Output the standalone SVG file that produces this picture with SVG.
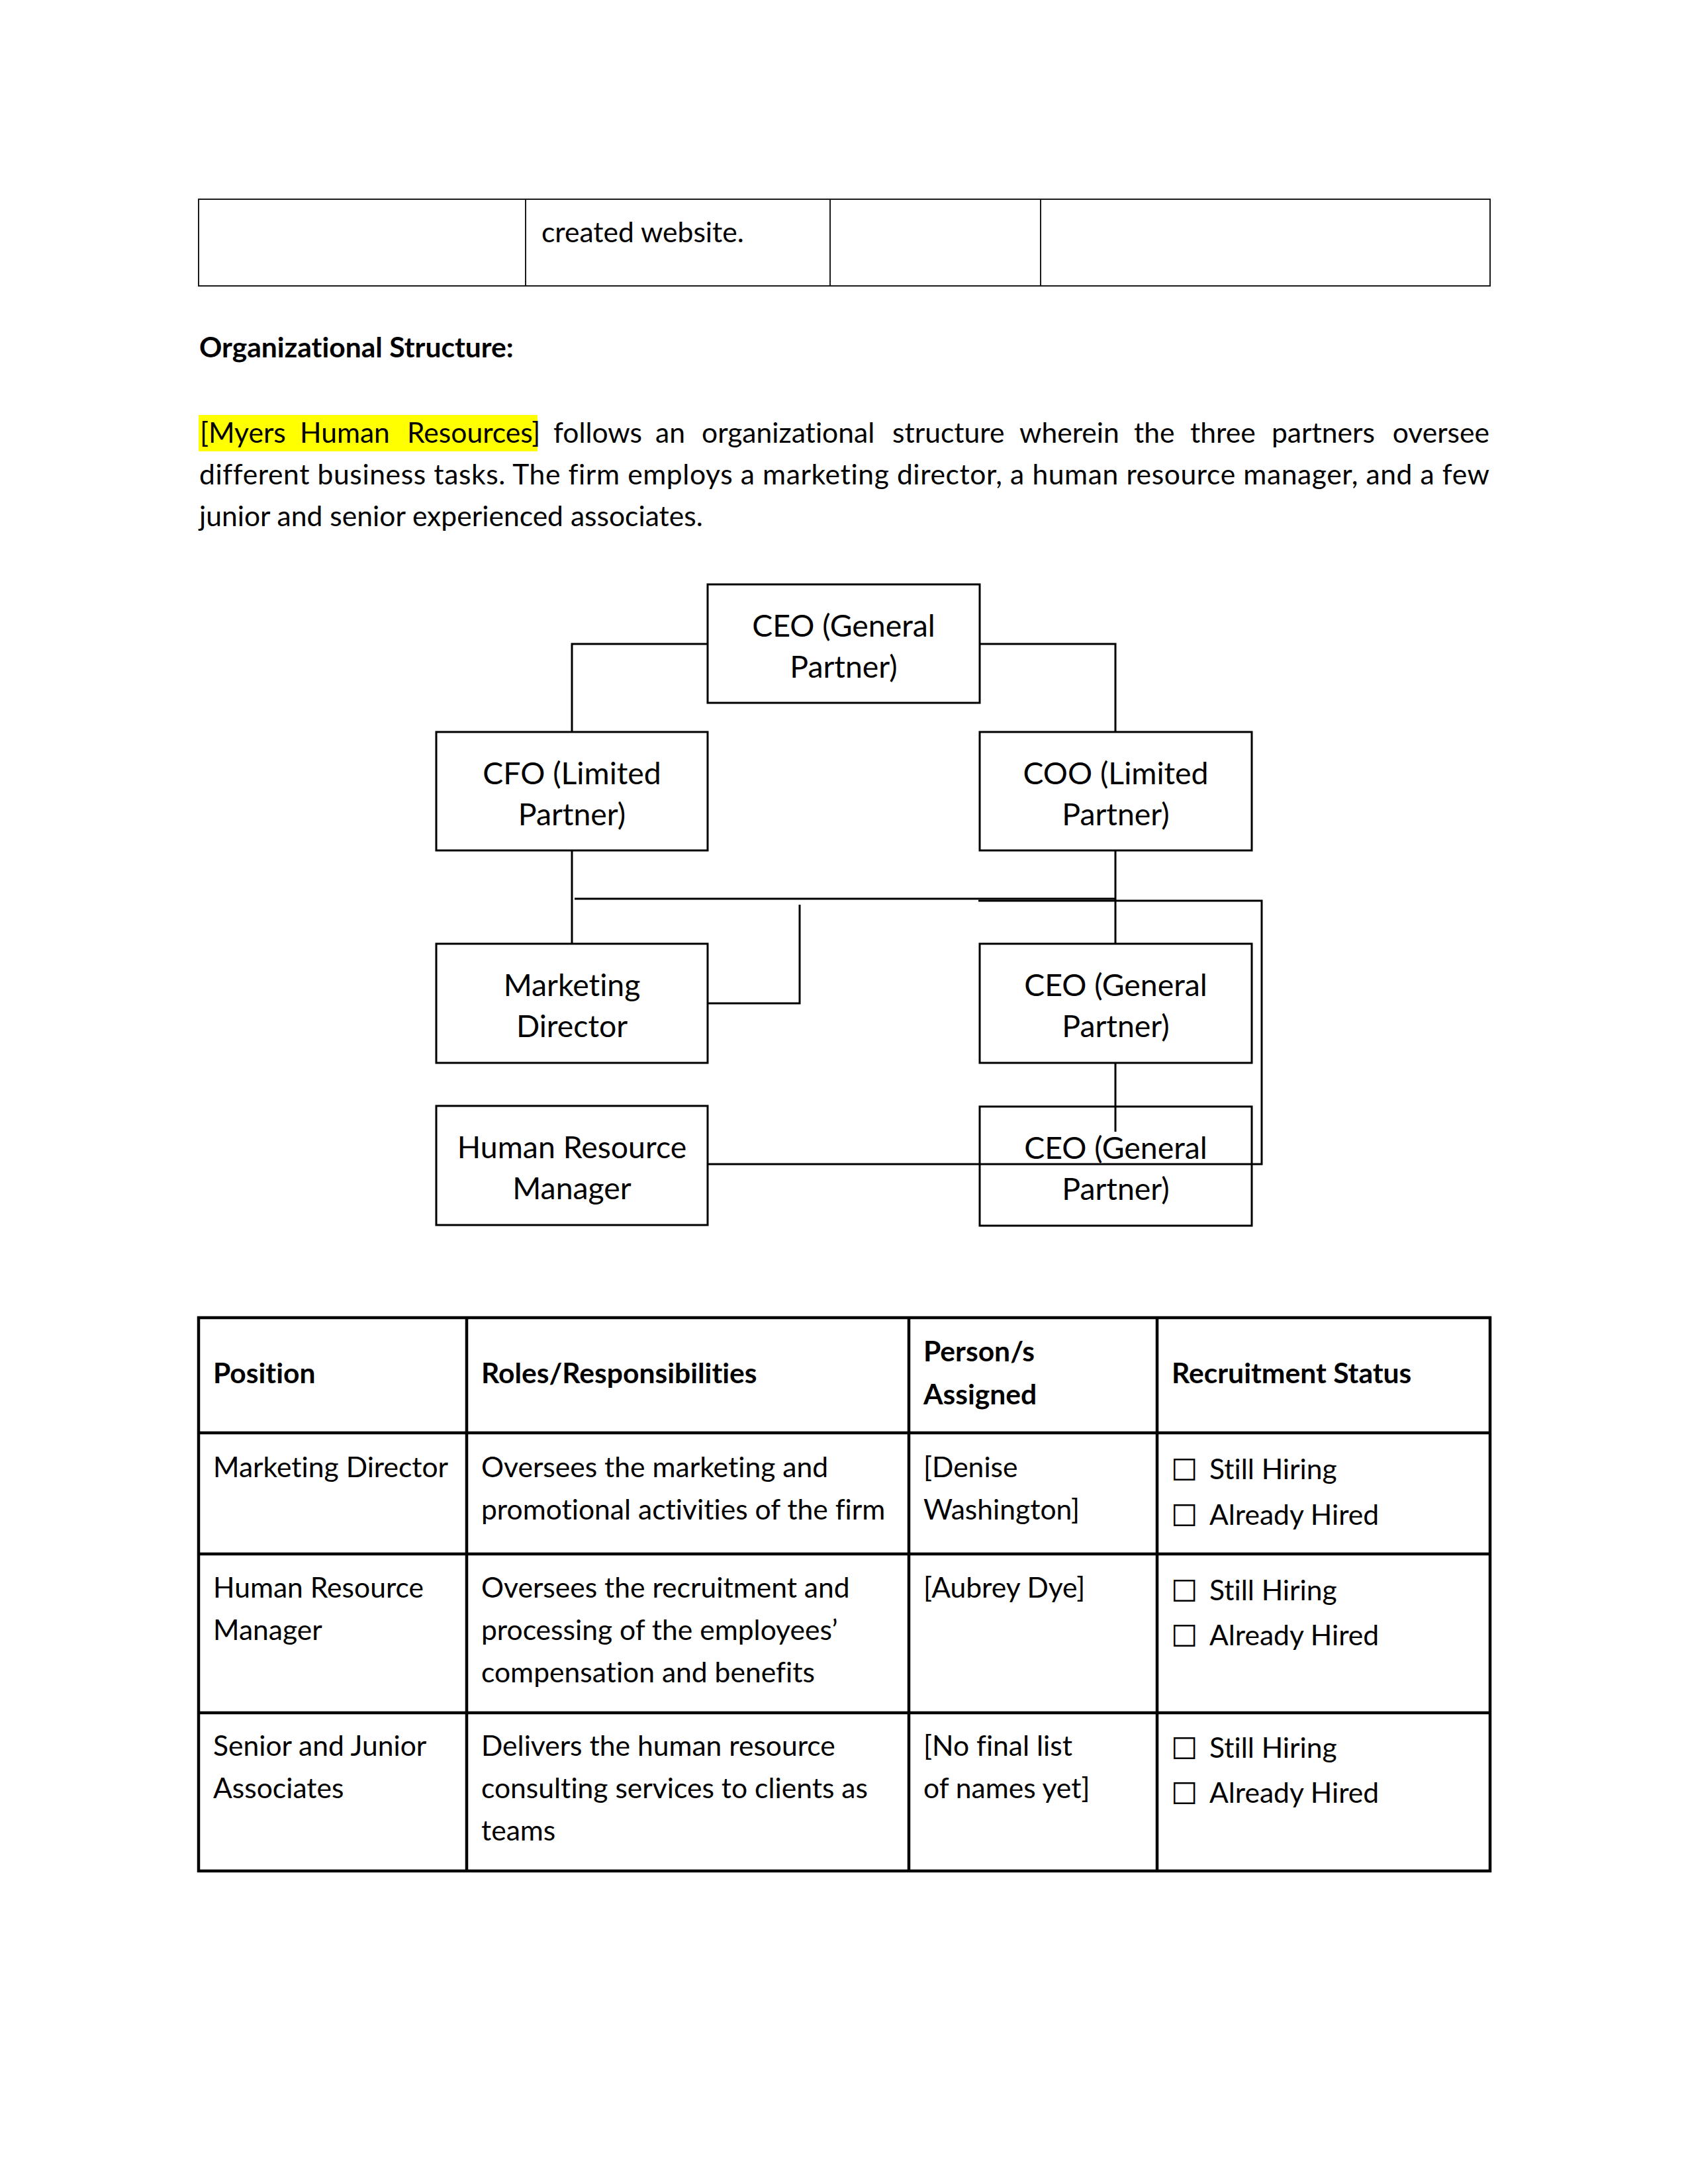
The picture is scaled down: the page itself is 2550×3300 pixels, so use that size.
<svg xmlns="http://www.w3.org/2000/svg" width="2550" height="3300" viewBox="0 0 2550 3300">
<style>
text{font-variant-ligatures:none;font-feature-settings:"liga" 0,"dlig" 0}
.t{font-family:Lato,'Liberation Sans',sans-serif;font-size:42.6px;fill:#000}
.b{font-weight:bold}
.bx{font-family:Lato,'Liberation Sans',sans-serif;font-size:46.4px;fill:#000;text-anchor:middle}
.box{fill:none;stroke:#000;stroke-width:3}
.cn{fill:none;stroke:#000;stroke-width:3}
.tl{fill:none;stroke:#1a1a1a;stroke-width:2}
.tb{fill:none;stroke:#000;stroke-width:4.5}
.cb{font-family:'DejaVu Sans',sans-serif;font-size:45px;fill:#000}
</style>
<rect width="2550" height="3300" fill="#fff"/>

<g id="top-table">
<rect class="tl" x="300" y="301" width="1951" height="131"/>
<line class="tl" x1="794" y1="301" x2="794" y2="432"/>
<line class="tl" x1="1254" y1="301" x2="1254" y2="432"/>
<line class="tl" x1="1572" y1="301" x2="1572" y2="432"/>
<text class="t" x="818" y="366">created website.</text>
</g>

<g id="intro">
<text class="t b" x="301" y="540">Organizational Structure:</text>
<rect x="300" y="627" width="512" height="55" fill="#ffff00"/>
<text class="t" y="669"><tspan x="302">[Myers</tspan> <tspan x="453">Human</tspan> <tspan x="615">Resources]</tspan> <tspan x="836">follows</tspan> <tspan x="990">an</tspan> <tspan x="1060">organizational</tspan> <tspan x="1348">structure</tspan> <tspan x="1540">wherein</tspan> <tspan x="1713">the</tspan> <tspan x="1798">three</tspan> <tspan x="1921">partners</tspan> <tspan x="2250" text-anchor="end">oversee</tspan></text>
<text class="t" x="301" y="732" textLength="1949" lengthAdjust="spacing">different business tasks. The firm employs a marketing director, a human resource manager, and a few</text>
<text class="t" x="301" y="795">junior and senior experienced associates.</text>
</g>

<g id="connectors">
<polyline class="cn" points="1069,973 864,973 864,1106"/>
<polyline class="cn" points="1480,973 1685,973 1685,1106"/>
<line class="cn" x1="864" y1="1285" x2="864" y2="1426"/>
<line class="cn" x1="1685" y1="1285" x2="1685" y2="1426"/>
<line class="cn" x1="868" y1="1358" x2="1685" y2="1358"/>
<polyline class="cn" points="1478,1361 1906,1361 1906,1759 1070,1759"/>
<polyline class="cn" points="1070,1516 1208,1516 1208,1367"/>
<line class="cn" x1="1685" y1="1606" x2="1685" y2="1710"/>
</g>

<g id="node-ceo">
<rect class="box" x="1069" y="883" width="411" height="179"/>
<text class="bx" x="1274.5" y="962">CEO (General</text>
<text class="bx" x="1274.5" y="1024">Partner)</text>
</g>
<g id="node-cfo">
<rect class="box" x="659" y="1106" width="410" height="179"/>
<text class="bx" x="864" y="1185">CFO (Limited</text>
<text class="bx" x="864" y="1247">Partner)</text>
</g>
<g id="node-coo">
<rect class="box" x="1480" y="1106" width="411" height="179"/>
<text class="bx" x="1685.5" y="1185">COO (Limited</text>
<text class="bx" x="1685.5" y="1247">Partner)</text>
</g>
<g id="node-marketing">
<rect class="box" x="659" y="1426" width="410" height="180"/>
<text class="bx" x="864" y="1505">Marketing</text>
<text class="bx" x="864" y="1567">Director</text>
</g>
<g id="node-ceo2">
<rect class="box" x="1480" y="1426" width="411" height="180"/>
<text class="bx" x="1685.5" y="1505">CEO (General</text>
<text class="bx" x="1685.5" y="1567">Partner)</text>
</g>
<g id="node-hrm">
<rect class="box" x="659" y="1671" width="410" height="180"/>
<text class="bx" x="864" y="1750">Human Resource</text>
<text class="bx" x="864" y="1812">Manager</text>
</g>
<g id="node-ceo3">
<rect class="box" x="1480" y="1672" width="411" height="180"/>
<text class="bx" x="1685.5" y="1751">CEO (General</text>
<text class="bx" x="1685.5" y="1813">Partner)</text>
</g>

<g id="roles-table">
<rect class="tb" x="300" y="1991" width="1951" height="836"/>
<line class="tb" x1="300" y1="2165" x2="2251" y2="2165"/>
<line class="tb" x1="300" y1="2348" x2="2251" y2="2348"/>
<line class="tb" x1="300" y1="2588" x2="2251" y2="2588"/>
<line class="tb" x1="705" y1="1991" x2="705" y2="2827"/>
<line class="tb" x1="1373" y1="1991" x2="1373" y2="2827"/>
<line class="tb" x1="1748" y1="1991" x2="1748" y2="2827"/>

<text class="t b" x="322" y="2090">Position</text>
<text class="t b" x="727" y="2090">Roles/Responsibilities</text>
<text class="t b" x="1395" y="2057">Person/s</text>
<text class="t b" x="1395" y="2122">Assigned</text>
<text class="t b" x="1770" y="2090">Recruitment Status</text>

<text class="t" x="322" y="2232">Marketing Director</text>
<text class="t" x="727" y="2232">Oversees the marketing and</text>
<text class="t" x="727" y="2296">promotional activities of the firm</text>
<text class="t" x="1395" y="2232">[Denise</text>
<text class="t" x="1395" y="2296">Washington]</text>
<text class="cb" x="1769" y="2237">☐</text>
<text class="t" x="1827" y="2235">Still Hiring</text>
<text class="cb" x="1769" y="2306">☐</text>
<text class="t" x="1827" y="2304">Already Hired</text>

<text class="t" x="322" y="2414">Human Resource</text>
<text class="t" x="322" y="2478">Manager</text>
<text class="t" x="727" y="2414">Oversees the recruitment and</text>
<text class="t" x="727" y="2478">processing of the employees’</text>
<text class="t" x="727" y="2542">compensation and benefits</text>
<text class="t" x="1395" y="2414">[Aubrey Dye]</text>
<text class="cb" x="1769" y="2420">☐</text>
<text class="t" x="1827" y="2418">Still Hiring</text>
<text class="cb" x="1769" y="2488">☐</text>
<text class="t" x="1827" y="2486">Already Hired</text>

<text class="t" x="322" y="2653">Senior and Junior</text>
<text class="t" x="322" y="2717">Associates</text>
<text class="t" x="727" y="2653">Delivers the human resource</text>
<text class="t" x="727" y="2717">consulting services to clients as</text>
<text class="t" x="727" y="2781">teams</text>
<text class="t" x="1395" y="2653">[No final list</text>
<text class="t" x="1395" y="2717">of names yet]</text>
<text class="cb" x="1769" y="2658">☐</text>
<text class="t" x="1827" y="2656">Still Hiring</text>
<text class="cb" x="1769" y="2726">☐</text>
<text class="t" x="1827" y="2724">Already Hired</text>
</g>
</svg>
